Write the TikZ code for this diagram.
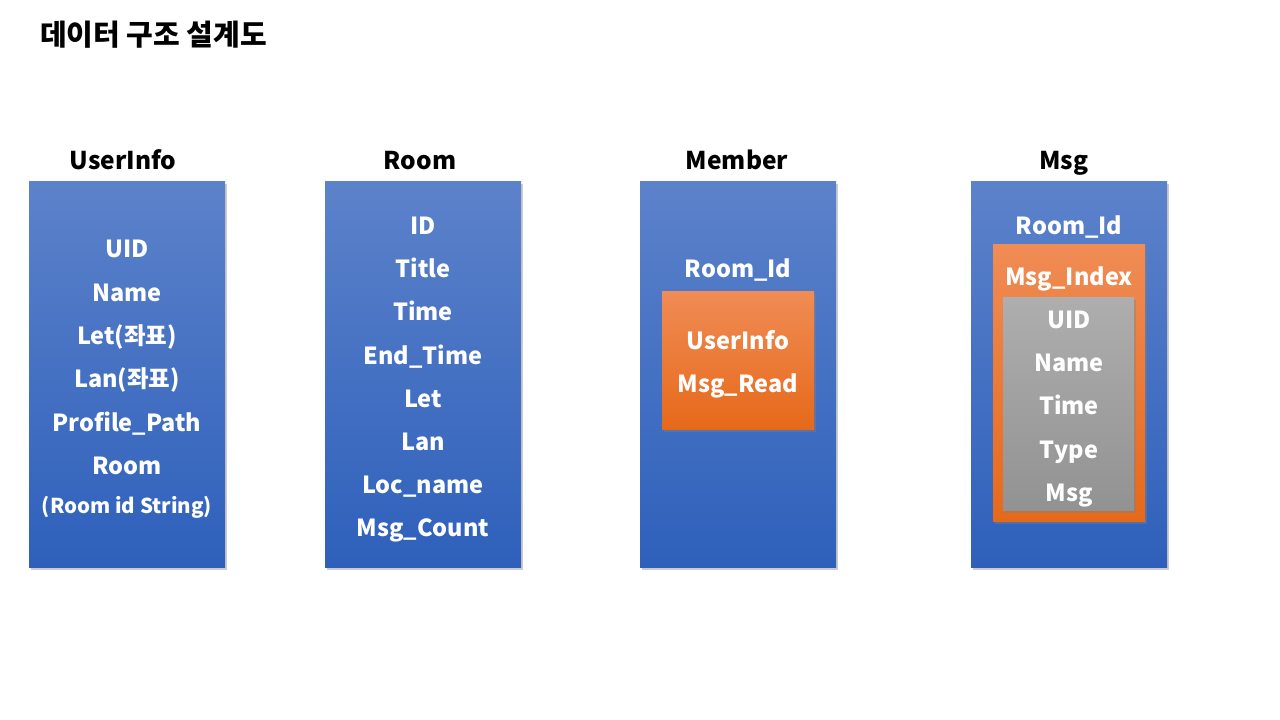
\documentclass[tikz,border=0pt]{standalone}
\usepackage{fontspec}
\setmainfont{Noto Sans CJK KR}
\usetikzlibrary{shadows}
\definecolor{bluetop}{HTML}{5C82CA}
\definecolor{bluebot}{HTML}{2E60BB}
\definecolor{orgtop}{HTML}{F08C55}
\definecolor{orgbot}{HTML}{E6691A}
\definecolor{graytop}{HTML}{AEAEAE}
\definecolor{graybot}{HTML}{929292}
\begin{document}
\begin{tikzpicture}[x=1pt,y=-1pt,
  shade/.style={drop shadow={shadow xshift=2pt,shadow yshift=-3pt,opacity=0.4}},
  panel/.style={anchor=north west,inner sep=0pt,top color=bluetop,bottom color=bluebot,draw=none,shade},
  orgbox/.style={anchor=north west,inner sep=0pt,top color=orgtop,bottom color=orgbot,draw=none,shade},
  graybox/.style={anchor=north west,inner sep=0pt,top color=graytop,bottom color=graybot,draw=none,shade},
  field/.style={text=white,font=\bfseries\fontsize{23.5}{25}\selectfont,inner sep=0pt,anchor=base,yshift=-8.6pt},
  small/.style={text=white,font=\bfseries\fontsize{20.5}{22}\selectfont,inner sep=0pt,anchor=base,yshift=-7.5pt},
  head/.style={text=black,font=\bfseries\fontsize{24.5}{26}\selectfont,inner sep=0pt,anchor=base,yshift=-9pt},
  ]
\useasboundingbox[fill=white] (0,0) rectangle (1280,720);
\node[text=black,font=\bfseries\fontsize{29}{31}\selectfont,anchor=base west,inner sep=0pt,yshift=-10.6pt] (title) at (40,35) {데이터 구조 설계도};

% panels
\node[panel,minimum width=196,minimum height=386] (pu) at (29,181) {};
\node[panel,minimum width=196,minimum height=386] (pr) at (325,181) {};
\node[panel,minimum width=196,minimum height=386] (pm) at (640,181) {};
\node[panel,minimum width=196,minimum height=386] (pg) at (971,181) {};

% headers
\node[head] (hu) at (123,160) {UserInfo};
\node[head] (hr) at (420,160) {Room};
\node[head] (hm) at (737,160) {Member};
\node[head] (hg) at (1064,160) {Msg};

% UserInfo fields
\node[field] (u1) at (127,249) {UID};
\node[field] (u2) at (127,293) {Name};
\node[field] (u3) at (127,336) {Let(좌표)};
\node[field] (u4) at (127,379) {Lan(좌표)};
\node[field] (u5) at (127,423) {Profile\_Path};
\node[field] (u6) at (127,466) {Room};
\node[small] (u7) at (127,506) {(Room id String)};

% Room fields
\node[field] (r1) at (423,226) {ID};
\node[field] (r2) at (423,269) {Title};
\node[field] (r3) at (423,312) {Time};
\node[field] (r4) at (423,356) {End\_Time};
\node[field] (r5) at (423,399) {Let};
\node[field] (r6) at (423,442) {Lan};
\node[field] (r7) at (423,485) {Loc\_name};
\node[field] (r8) at (423,528) {Msg\_Count};

% Member
\node[field] (m1) at (738,269) {Room\_Id};
\node[orgbox,minimum width=152,minimum height=138] (mo) at (662,291) {};
\node[field] (m2) at (738,341) {UserInfo};
\node[field] (m3) at (738,384) {Msg\_Read};

% Msg
\node[field] (g1) at (1069,226) {Room\_Id};
\node[orgbox,minimum width=152,minimum height=277] (go) at (993,244) {};
\node[field] (g2) at (1069,277) {Msg\_Index};
\node[graybox,minimum width=131,minimum height=213] (gg) at (1003,297) {};
\node[field] (g3) at (1069,320) {UID};
\node[field] (g4) at (1069,363) {Name};
\node[field] (g5) at (1069,406) {Time};
\node[field] (g6) at (1069,450) {Type};
\node[field] (g7) at (1069,493) {Msg};
\end{tikzpicture}
\end{document}
